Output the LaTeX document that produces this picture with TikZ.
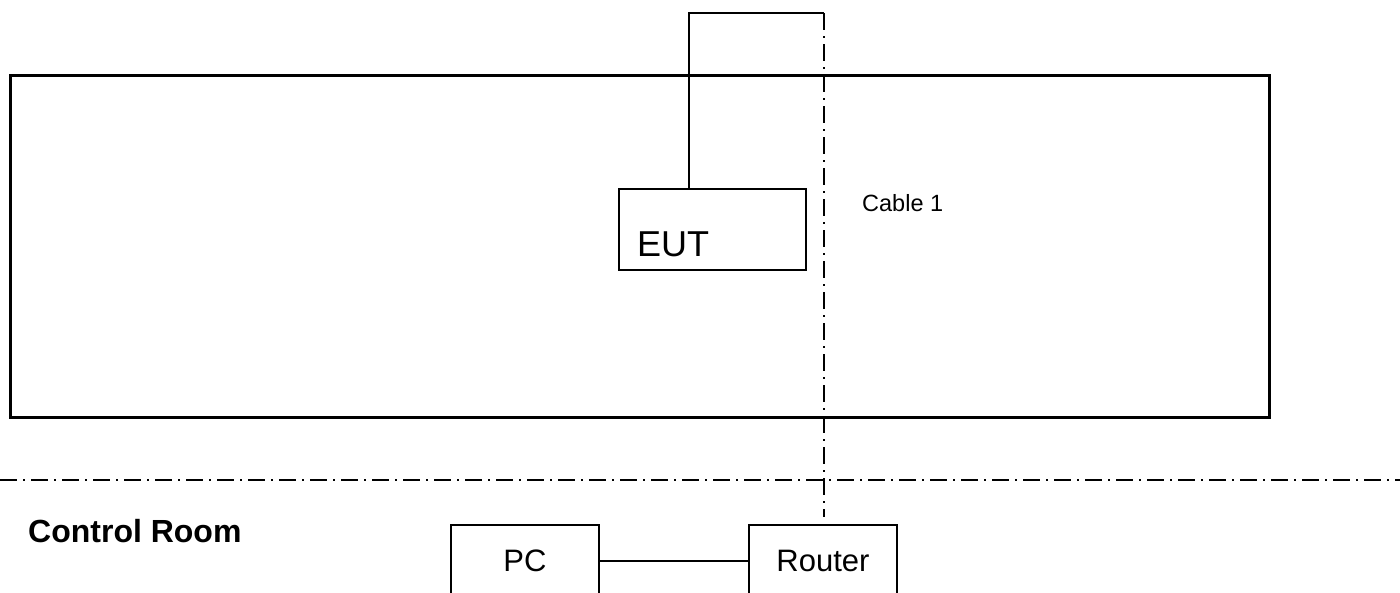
\documentclass[tikz,border=0pt]{standalone}
\usepackage{fontspec}
\setmainfont{Liberation Sans}
\usetikzlibrary{calc}
\pgfdeclarelayer{edgelayer}
\pgfdeclarelayer{nodelayer}
\pgfsetlayers{edgelayer,nodelayer,main}
\tikzstyle{edge}=[draw=black, line width=2pt]
\tikzstyle{cableline}=[draw=black, line width=2pt, dash pattern=on 17pt off 6pt on 2pt off 6pt]
\tikzstyle{room}=[rectangle, draw=black, line width=3pt, minimum width=1259pt, minimum height=342pt]
\tikzstyle{box}=[rectangle, fill=white, draw=black, line width=2pt, minimum width=148pt, minimum height=72pt, inner sep=0pt, font=\fontsize{31}{37}\selectfont]
\tikzstyle{eutbox}=[rectangle, fill=white, draw=black, line width=2pt, minimum width=187pt, minimum height=81pt, inner sep=0pt]
\tikzstyle{caption}=[inner sep=0pt, anchor=base west]

\begin{document}
\begin{tikzpicture}[x=1pt, y=-1pt]
			\clip (0, 0) rectangle (1400, 592);
			\begin{pgfonlayer}{nodelayer}
				\node [style=room] (0) at (639.5, 246) {};
				\node [style=eutbox] (1) at (712.5, 229.5) {};
				\node [style=caption, font=\fontsize{36}{43}\selectfont] (2) at ($(1.south west)+(19, -15)$) {EUT};
				\node [style=caption, font=\fontsize{23.5}{28}\selectfont] (3) at (862, 211) {Cable 1};
				\node [style=caption, font=\fontsize{32}{38}\selectfont\bfseries] (4) at (28, 542) {Control Room};
				\node [style=box] (10) at (525, 561) {PC};
				\node [style=box] (11) at (823, 561) {Router};
			\end{pgfonlayer}
			\coordinate (5) at (689, 13);
			\coordinate (6) at (824, 13);
			\coordinate (7) at (824, 517);
			\coordinate (8) at (0, 480);
			\coordinate (9) at (1400, 480);
			\begin{pgfonlayer}{edgelayer}
				\draw [style=edge] (5 |- 1.north) to (5) to (6);
				\draw [style=cableline] (6) to (7);
				\draw [style=cableline] (8) to (9);
				\draw [style=edge] (10) to (11);
			\end{pgfonlayer}
		\end{tikzpicture}
\end{document}
